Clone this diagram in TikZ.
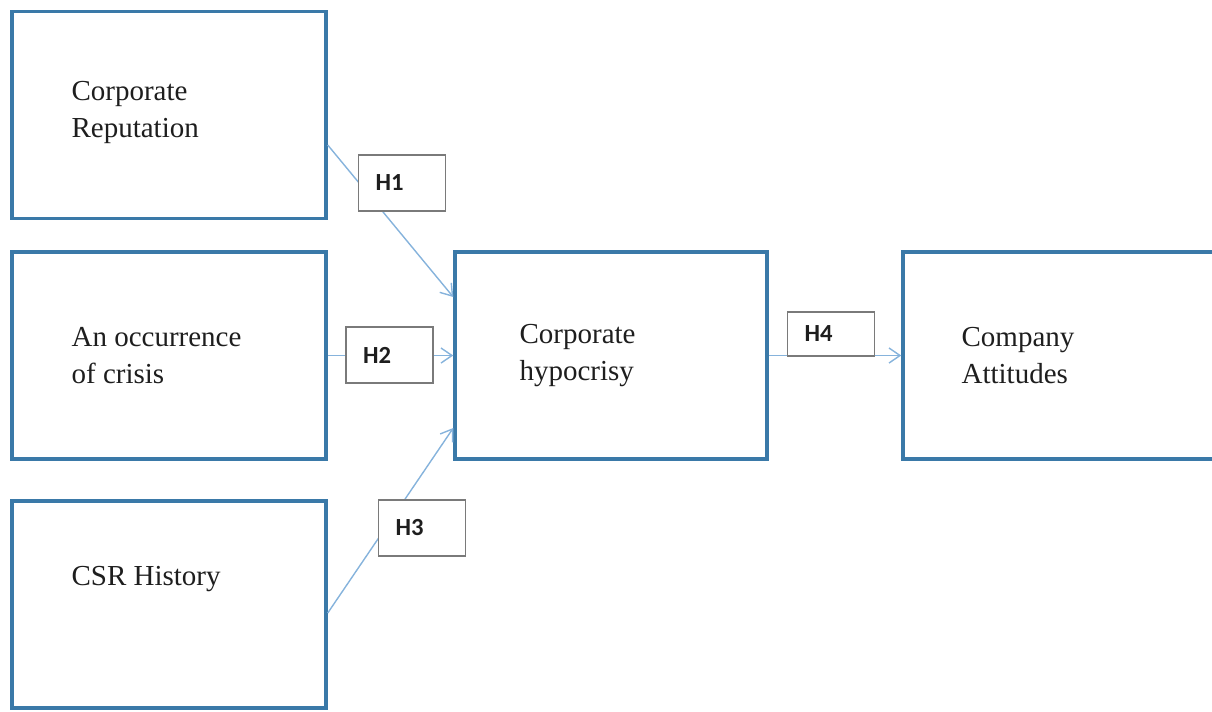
\documentclass[tikz,border=0pt]{standalone}
\usepackage{fontspec}
\setmainfont{Liberation Serif}
\newfontfamily\labelfont{Carlito}
\usetikzlibrary{arrows.meta,positioning}
\definecolor{boxblue}{HTML}{3A79A8}
\definecolor{linkblue}{HTML}{86B3DC}
\definecolor{labelgray}{HTML}{7A7A7A}
\definecolor{textdark}{HTML}{1E1E1E}
\tikzset{%
    >={Straight Barb[length=2.2mm,width=3mm]},
    mbox/.style={draw=boxblue, line width=2pt, minimum width=6.28cm, minimum height=4.14cm},
    mtext/.style={inner sep=0pt, align=left, text=textdark, font=\fontsize{16.5}{21.5}\selectfont},
    hbox/.style={draw=labelgray, line width=0.9pt, fill=white, inner xsep=0.34cm, inner ysep=0pt,
        text width=1.06cm, align=left, minimum height=1.12cm, text=textdark,
        font=\labelfont\bfseries\fontsize{14}{16}\selectfont},
    link/.style={draw=linkblue, line width=0.8pt, ->}
}
\begin{document}
\begin{tikzpicture}[x=0.02cm, y=-0.02cm]
      \useasboundingbox (0,0) rectangle (1212,711);

      \node[mbox] (rep) at (169,115) {};
      \node[mbox] (crisis) at (169,355.5) {};
      \node[mbox] (csr) at (169,604.5) {};
      \node[mbox, minimum width=6.24cm] (hyp) at (611,355.5) {};
      \node[mbox] (att) at (1060,355.5) {};

      \node[mtext, right=1.22cm of rep.west, yshift=0.05cm] (reptext) {Corporate\\Reputation};
      \node[mtext, right=1.22cm of crisis.west] (crisistext) {An occurrence\\of crisis};
      \node[mtext, right=1.22cm of csr.west, yshift=0.5cm] (csrtext) {CSR History};
      \node[mtext, right=1.32cm of hyp.west] (hyptext) {Corporate\\hypocrisy};
      \node[mtext, right=1.2cm of att.west] (atttext) {Company\\Attitudes};

      \draw[link] ([yshift=-0.6cm]rep.east) -- ([yshift=1.17cm]hyp.west);
      \draw[link] (crisis.east) -- (hyp.west);
      \draw[link] ([yshift=-0.17cm]csr.east) -- ([yshift=-1.45cm]hyp.west);
      \draw[link] (hyp.east) -- (att.west);

      \node[hbox] (h1) at (402,183) {H1};
      \node[hbox] (h2) at (389.5,355) {H2};
      \node[hbox] (h3) at (422,528) {H3};
      \node[hbox, minimum height=0.88cm] (h4) at (831,334) {H4};
\end{tikzpicture}
\end{document}
